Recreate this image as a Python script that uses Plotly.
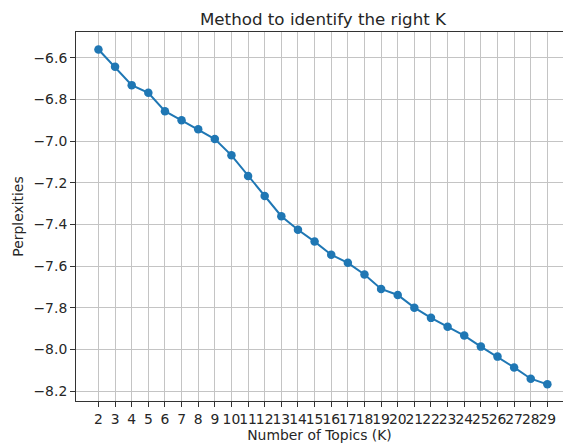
import plotly.graph_objects as go

k_values = list(range(2, 30))
perplexities = [-6.560, -6.643, -6.731, -6.768, -6.856, -6.900, -6.943, -6.990,
                -7.068, -7.167, -7.263, -7.360, -7.425, -7.482, -7.545, -7.584,
                -7.640, -7.709, -7.738, -7.799, -7.848, -7.891, -7.933, -7.986,
                -8.034, -8.086, -8.140, -8.167]
y_ticks = [-6.6, -6.8, -7.0, -7.2, -7.4, -7.6, -7.8, -8.0, -8.2]

font = "DejaVu Sans"
fig = go.Figure()
fig.add_trace(go.Scatter(
    x=k_values, y=perplexities, mode="lines+markers",
    line=dict(color="#1f77b4", width=2),
    marker=dict(color="#1f77b4", size=8.5),
    showlegend=False,
))
fig.update_layout(
    width=563, height=445,
    margin=dict(l=76, r=0, t=32, b=44),
    plot_bgcolor="white", paper_bgcolor="white",
    font=dict(family=font, size=13.9, color="#262626"),
    title=dict(text="Method to identify the right K", x=323/563, xanchor="center",
               xref="container", y=1-19/445, yref="container", yanchor="middle",
               font=dict(family=font, size=16.7, color="#262626")),
)
fig.update_xaxes(
    range=[0.65, 29.94], tickmode="array", tickvals=k_values,
    ticktext=[str(k) for k in k_values], tickangle=0,
    showgrid=True, gridcolor="#c4c4c4", gridwidth=1,
    showline=True, linecolor="#333333", linewidth=1, mirror=True,
    ticks="outside", ticklen=5, tickcolor="#333333", zeroline=False,
    title=dict(text="Number of Topics (K)", standoff=4,
               font=dict(family=font, size=13.9, color="#262626")),
)
fig.update_yaxes(
    range=[-8.247, -6.476], tickmode="array", tickvals=y_ticks,
    ticktext=[f"{v:.1f}".replace("-", "\u2212") for v in y_ticks],
    showgrid=True, gridcolor="#c4c4c4", gridwidth=1,
    showline=True, linecolor="#333333", linewidth=1, mirror=False,
    ticks="outside", ticklen=5, tickcolor="#333333", zeroline=False,
    title=dict(text="Perplexities", standoff=6,
               font=dict(family=font, size=13.9, color="#262626")),
)
fig.write_html("out.html")
